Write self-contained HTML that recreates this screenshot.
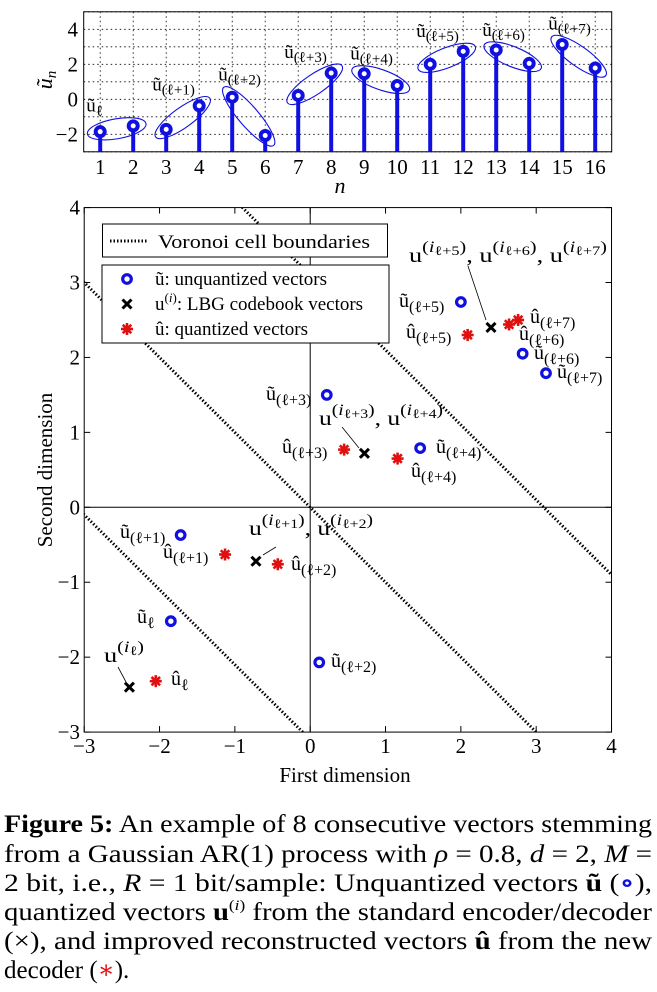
<!DOCTYPE html>
<html><head><meta charset="utf-8"><style>
html,body{margin:0;background:#fff;width:657px;height:992px;overflow:hidden}
svg{display:block;font-family:"Liberation Serif","DejaVu Serif",serif}
</style></head><body>
<svg id="fig" width="657" height="992" viewBox="0 0 657 992" xmlns="http://www.w3.org/2000/svg" font-family="Liberation Serif, DejaVu Serif, serif">
<g id="top"></g>
<g id="bot"></g>
<g id="cap" font-size="25" fill="#000">
<text x="4" y="832" textLength="648" lengthAdjust="spacingAndGlyphs"><tspan font-weight="bold">Figure 5:</tspan> An example of 8 consecutive vectors stemming</text>
<text x="4" y="862" textLength="648" lengthAdjust="spacingAndGlyphs">from a Gaussian AR(1) process with <tspan font-style="italic">ρ</tspan> = 0.8, <tspan font-style="italic">d</tspan> = 2, <tspan font-style="italic">M</tspan> =</text>
<text x="4" y="891" textLength="648" lengthAdjust="spacingAndGlyphs">2 bit, i.e., <tspan font-style="italic">R</tspan> = 1 bit/sample: Unquantized vectors <tspan font-weight="bold">ũ</tspan> (<tspan fill="#1010e0" font-weight="bold">∘</tspan>),</text>
<text x="4" y="920" textLength="648" lengthAdjust="spacingAndGlyphs">quantized vectors <tspan font-weight="bold">u</tspan><tspan font-size="15" dy="-10">(<tspan font-style="italic">i</tspan>)</tspan><tspan dy="10"> from the standard encoder/decoder</tspan></text>
<text x="4" y="949" textLength="648" lengthAdjust="spacingAndGlyphs">(×), and improved reconstructed vectors <tspan font-weight="bold">û</tspan> from the new</text>
<text x="4" y="978">decoder (<tspan fill="#e01010">∗</tspan>).</text>
</g>
</svg>
<script>
// ---- data: top stem chart ----
const nValues = [1,2,3,4,5,6,7,8,9,10,11,12,13,14,15,16];
const uValues = [-1.85,-1.52,-1.72,-0.37,0.12,-2.07,0.22,1.5,1.46,0.79,2.0,2.74,2.82,2.05,3.13,1.79];
const topYTicks = [-2,0,2,4];
const topLabels = ["ℓ","(ℓ+1)","(ℓ+2)","(ℓ+3)","(ℓ+4)","(ℓ+5)","(ℓ+6)","(ℓ+7)"];
// ---- data: bottom scatter ----
const unqX = [-1.85,-1.72,0.12,0.22,1.46,2.0,2.82,3.13];
const unqY = [-1.52,-0.37,-2.07,1.5,0.79,2.74,2.05,1.79];
const cbX = [-2.4,-0.72,0.72,2.4];
const cbY = [-2.4,-0.72,0.72,2.4];
const qX = [-2.05,-1.13,-0.43,0.45,1.16,2.09,2.64,2.76];
const qY = [-2.32,-0.63,-0.76,0.77,0.65,2.3,2.44,2.5];
const voronoiC = [-3.1,0,3.1];
const botXTicks = [-3,-2,-1,0,1,2,3,4];
const botYTicks = [-3,-2,-1,0,1,2,3,4];

const NS="http://www.w3.org/2000/svg";
function mk(tag,attrs,parent){const e=document.createElementNS(NS,tag);for(const k in attrs)e.setAttribute(k,attrs[k]);parent.appendChild(e);return e;}

// ---- top chart ----
const T=document.getElementById('top');
const tx=n=>83.7+(n-0.5)*(611.7-83.7)/16;
const ty=v=>99.3-v*17.5;
const tL=83.7,tR=611.7,tT=ty(5),tB=ty(-3);
for(const n of nValues){
  const g=mk('line',{x1:tx(n),x2:tx(n),y1:tT,y2:tB,stroke:'#000','stroke-width':0.8,'stroke-dasharray':'1.5,3'},T);
  
  const t=mk('text',{x:tx(n),y:174,'font-size':21,'text-anchor':'middle'},T);t.textContent=n;
  
}
for(const v of [-3,-2,-1,0,1,2,3,4,5]){
  const g=mk('line',{x1:tL,x2:tR,y1:ty(v),y2:ty(v),stroke:'#000','stroke-width':0.8,'stroke-dasharray':'1.5,3'},T);
  
}
for(const v of topYTicks){
  const t=mk('text',{x:78,y:ty(v)+7,'font-size':21,'text-anchor':'end'},T);t.textContent=v===-2?'−2':v;
  
}
let fr=mk('rect',{x:tL,y:tT,width:tR-tL,height:tB-tT,fill:'none',stroke:'#000','stroke-width':1},T);

for(let i=0;i<nValues.length;i++){
  const x=tx(nValues[i]),y=ty(uValues[i]);
  const s=mk('line',{x1:x,x2:x,y1:tB,y2:y,stroke:'#1010e0','stroke-width':4},T);
  
  const c=mk('circle',{cx:x,cy:y,r:4.5,fill:'#fff',stroke:'#1010e0','stroke-width':4},T);
  
}
for(let p=0;p<8;p++){
  const x1=tx(nValues[2*p]),y1=ty(uValues[2*p]),x2=tx(nValues[2*p+1]),y2=ty(uValues[2*p+1]);
  const cx=(x1+x2)/2,cy=(y1+y2)/2,len=Math.hypot(x2-x1,y2-y1);
  const ang=Math.atan2(y2-y1,x2-x1)*180/Math.PI;
  const e=mk('ellipse',{cx:cx,cy:cy,rx:len/2+13,ry:10,fill:'none',stroke:'#1010e0','stroke-width':1.1,transform:`rotate(${ang} ${cx} ${cy})`},T);
  
  const a=ang*Math.PI/180;
  const halfH=Math.hypot((len/2+13)*Math.sin(a),10*Math.cos(a));
  const t=mk('text',{x:x1-14,y:cy-halfH-6,'font-size':19},T);
  t.innerHTML='ũ<tspan font-size="15" dy="4">'+topLabels[p]+'</tspan>';
  
}
let yl=mk('text',{x:52,y:80,'font-size':22,'font-style':'italic','text-anchor':'middle',transform:'rotate(-90 52 80)'},T);
yl.innerHTML='ũ<tspan font-size="15" dy="4">n</tspan>';

let xl=mk('text',{x:340,y:193,'font-size':22,'font-style':'italic','text-anchor':'middle'},T);xl.textContent='n';


// ---- bottom chart ----
const B=document.getElementById('bot');
const bx=v=>310.2+v*75.33;
const by=v=>507.3-v*74.93;
const bL=bx(-3),bR=bx(4),bT=by(4),bBt=by(-3);
const clip=mk('clipPath',{id:'bclip'},B);mk('rect',{x:bL,y:bT,width:bR-bL,height:bBt-bT},clip);
let a1=mk('line',{x1:bx(0),x2:bx(0),y1:bT,y2:bBt,stroke:'#000','stroke-width':1},B);

let a2=mk('line',{x1:bL,x2:bR,y1:by(0),y2:by(0),stroke:'#000','stroke-width':1},B);

const vg=mk('g',{'clip-path':'url(#bclip)'},B);
for(const c of voronoiC){
  const l=mk('line',{x1:bx(-4),y1:by(c+4),x2:bx(5),y2:by(c-5),stroke:'#000','stroke-width':3,'stroke-dasharray':'1.5,2'},vg);
  
}
for(const v of botXTicks){
  mk('line',{x1:bx(v),x2:bx(v),y1:bBt,y2:bBt-6,stroke:'#000'},B);
  mk('line',{x1:bx(v),x2:bx(v),y1:bT,y2:bT+6,stroke:'#000'},B);
  const t=mk('text',{x:bx(v),y:753,'font-size':21,'text-anchor':'middle'},B);t.textContent=v<0?'−'+(-v):v;
  
}
for(const v of botYTicks){
  mk('line',{x1:bL,x2:bL+6,y1:by(v),y2:by(v),stroke:'#000'},B);
  mk('line',{x1:bR,x2:bR-6,y1:by(v),y2:by(v),stroke:'#000'},B);
  const t=mk('text',{x:80,y:by(v)+7,'font-size':21,'text-anchor':'end'},B);t.textContent=v<0?'−'+(-v):v;
  
}
fr=mk('rect',{x:bL,y:bT,width:bR-bL,height:bBt-bT,fill:'none',stroke:'#000','stroke-width':1},B);


function circ(x,y,parent){return mk('circle',{cx:x,cy:y,r:4.3,fill:'#fff',stroke:'#1010e0','stroke-width':3.2},parent);}
function cross(x,y,parent){const g=mk('g',{stroke:'#000','stroke-width':3},parent);
  mk('line',{x1:x-4.5,y1:y-4.5,x2:x+4.5,y2:y+4.5},g);mk('line',{x1:x-4.5,y1:y+4.5,x2:x+4.5,y2:y-4.5},g);return g;}
function star(x,y,parent){const g=mk('g',{stroke:'#e01010','stroke-width':2.6},parent);
  for(let k=0;k<4;k++){const a=k*Math.PI/4;mk('line',{x1:x-6*Math.cos(a),y1:y-6*Math.sin(a),x2:x+6*Math.cos(a),y2:y+6*Math.sin(a)},g);}
  mk('circle',{cx:x,cy:y,r:3.5,fill:'#e01010',stroke:'none'},g);return g;}

// legend
let lb=mk('rect',{x:102.5,y:224,width:285,height:33,fill:'#fff',stroke:'#000'},B);

mk('line',{x1:110,x2:148,y1:241,y2:241,stroke:'#000','stroke-width':3,'stroke-dasharray':'1.5,2'},B);
let t=mk('text',{x:158,y:248,'font-size':19,textLength:212,lengthAdjust:'spacingAndGlyphs'},B);t.textContent='Voronoi cell boundaries';

lb=mk('rect',{x:102,y:265,width:287,height:78,fill:'#fff',stroke:'#000'},B);

circ(127,279,B);cross(127,304,B);star(127,329,B);
t=mk('text',{x:155,y:285,'font-size':19},B);t.textContent='ũ: unquantized vectors';

t=mk('text',{x:155,y:310,'font-size':19},B);t.innerHTML='u<tspan font-size="13" dy="-8">(<tspan font-style="italic">i</tspan>)</tspan><tspan dy="8">: LBG codebook vectors</tspan>';

t=mk('text',{x:155,y:335,'font-size':19},B);t.textContent='û: quantized vectors';


for(let i=0;i<unqX.length;i++){const c=circ(bx(unqX[i]),by(unqY[i]),B);
  }
for(let i=0;i<cbX.length;i++){const c=cross(bx(cbX[i]),by(cbY[i]),B);
  }
for(let i=0;i<qX.length;i++){const c=star(bx(qX[i]),by(qY[i]),B);
  }

function lab(x,y,base,sub){
  const e=mk('text',{x:x,y:y,'font-size':20},B);
  e.innerHTML=base+'<tspan font-size="16" dy="5">'+sub+'</tspan>';
  return e;}
function cbl(x,y,subs,w){
  const e=mk('text',{x:x,y:y,'font-size':21,textLength:w,lengthAdjust:'spacingAndGlyphs'},B);
  e.innerHTML=subs.map((s,i)=>(i?'<tspan dy="10">, </tspan><tspan>u</tspan>':'u')+'<tspan font-size="16" dy="-10">(<tspan font-style="italic">i</tspan><tspan font-size="13" dy="3">'+s+'</tspan><tspan dy="-3">)</tspan></tspan>').join('');
  return e;}
function lead(x1,y1,x2,y2){const l=mk('line',{x1,y1,x2,y2,stroke:'#000','stroke-width':0.8},B);
  }

lab(137,623,'ũ','ℓ');lab(120,538,'ũ','(ℓ+1)');lab(331,667,'ũ','(ℓ+2)');lab(266,400,'ũ','(ℓ+3)');
lab(436,453,'ũ','(ℓ+4)');lab(399,307,'ũ','(ℓ+5)');lab(534,359,'ũ','(ℓ+6)');lab(557,378,'ũ','(ℓ+7)');
lab(171,685,'û','ℓ');lab(163,558,'û','(ℓ+1)');lab(291,570,'û','(ℓ+2)');lab(282,453,'û','(ℓ+3)');
lab(411,477,'û','(ℓ+4)');lab(406,338,'û','(ℓ+5)');lab(519,340,'û','(ℓ+6)');lab(530,323,'û','(ℓ+7)');
cbl(409,262,['ℓ+5','ℓ+6','ℓ+7'],198);lead(468,266,486,320);
cbl(319,425,['ℓ+3','ℓ+4'],124);lead(342,427,359,448);
cbl(249,535,['ℓ+1','ℓ+2'],124);lead(276,547,263,555);
cbl(104,662,['ℓ'],40);lead(118,667,126,682);

let xt=mk('text',{x:345,y:782,'font-size':21,'text-anchor':'middle'},B);xt.textContent='First dimension';

let ytt=mk('text',{x:52,y:470,'font-size':21,'text-anchor':'middle',transform:'rotate(-90 52 470)'},B);ytt.textContent='Second dimension';

</script>
</body></html>
